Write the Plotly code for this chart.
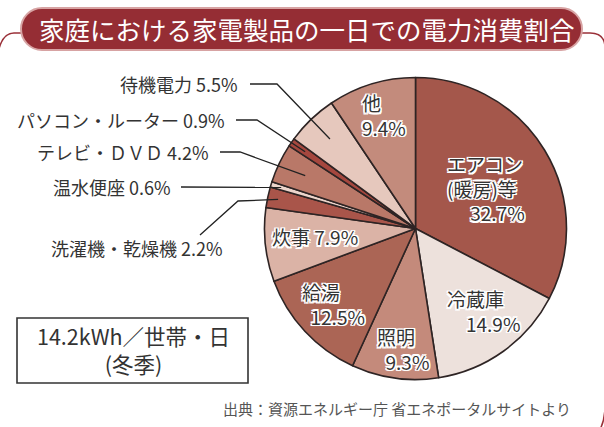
import math
import plotly.graph_objects as go

W, H = 604, 427

# ---- data ----
categories = ["エアコン（暖房）等", "冷蔵庫", "照明", "給湯", "炊事", "洗濯機・乾燥機",
              "温水便座", "テレビ・ＤＶＤ", "パソコン・ルーター", "待機電力", "他"]
values = [32.7, 14.9, 9.3, 12.5, 7.9, 2.2, 0.6, 4.2, 0.9, 5.5, 9.4]
colors = ["#a4574b", "#ede1dc", "#c48a7b", "#ab6555", "#dbb3a6", "#a9554a",
          "#ecd5cc", "#b97868", "#a5473e", "#e6c8bd", "#c38b7c"]

title_text = "家庭における家電製品の一日での電力消費割合"
total_text = ["14.2kWh／世帯・日", "(冬季)"]
source_text = "出典：資源エネルギー庁 省エネポータルサイトより"

# ---- geometry (pixels) ----
CX, CY, R = 415.5, 228.5, 151


def px(x):
    return x / W


def py(y):
    return 1 - y / H


FONT = "Noto Sans CJK JP"
DARK = "#333333"
HALO = ",".join(f"{dx}px {dy}px 0 #fff" for dx in (-1.5, 0, 1.5) for dy in (-1.5, 0, 1.5)
                if (dx, dy) != (0, 0)) + ",0 0 2px #fff"

fig = go.Figure()
fig.add_trace(go.Pie(
    labels=categories, values=values, sort=False, direction="clockwise", rotation=0,
    marker=dict(colors=colors, line=dict(color="#2e2424", width=1.6)),
    textinfo="none", hoverinfo="label+percent", showlegend=False,
    domain=dict(x=[px(CX - R), px(CX + R)], y=[py(CY + R), py(CY - R)]),
))

# cumulative mid-angles (clockwise from 12 o'clock)
tot = sum(values)
mids = []
acc = 0
for v in values:
    mids.append((acc + v / 2) / tot * 360)
    acc += v


def slice_point(i, frac):
    a = math.radians(mids[i])
    return CX + frac * R * math.sin(a), CY - frac * R * math.cos(a)


annotations = []
shapes = []


def txt(x, y, s, size, anchor="center", color=DARK, halo=False, align="center"):
    f = dict(family=FONT, size=size, color=color)
    if halo:
        f["shadow"] = HALO
    annotations.append(dict(x=px(x), y=py(y), xref="paper", yref="paper", text=s,
                            showarrow=False, xanchor=anchor, yanchor="middle", font=f,
                            align=align))


# ---- inside labels ----
IN = 19
NB = "&nbsp;"
txt(445, 188, f"エアコン<br>(暖房)等<br>　 {values[0]}%", IN, anchor="left", halo=True, align="left")
txt(445, 311, f"{categories[1]}<br>　{values[1]}%", IN, anchor="left", halo=True, align="left")
txt(375, 349, f"{categories[2]}<br>{NB*2}{values[2]}%", IN, anchor="left", halo=True, align="left")
txt(300, 304, f"{categories[3]}<br>{NB*2}{values[3]}%", IN, anchor="left", halo=True, align="left")
txt(315, 237, f"{categories[4]} {values[4]}%", IN, halo=True)
txt(360, 115, f"{categories[10]}<br>{values[10]}%", IN, anchor="left", halo=True, align="left")

# ---- outside labels with leader lines ----
OUT = 18
outer = [
    (9, 240, 84, [(250, 84), (277, 84)], 0.82),
    (8, 227, 120, [(236, 120), (257, 120)], 0.89),
    (7, 211, 152, [(220, 152), (240, 152)], 0.81),
    (6, 173, 187, [(181, 187)], 0.93),
    (5, 225, 248, [(200, 235), (238, 201)], 0.93),
]
for i, tx, ty, pts, frac in outer:
    txt(tx, ty, f"{categories[i]} {values[i]}%", OUT, anchor="right")
    ex, ey = slice_point(i, frac)
    allp = pts + [(ex, ey)]
    path = "M " + " L ".join(f"{px(x)},{py(y)}" for x, y in allp)
    shapes.append(dict(type="path", xref="paper", yref="paper", path=path,
                       line=dict(color="#222", width=1.3)))

# ---- frame and title banner ----
FR = "#9a3038"
shapes.append(dict(type="path", xref="paper", yref="paper",
                   path=f"M {px(-3)},{py(60)} Q {px(0)},{py(33)} {px(14)},{py(33)} L {px(30)},{py(33)}",
                   line=dict(color=FR, width=1.5)))
shapes.append(dict(type="path", xref="paper", yref="paper",
                   path=(f"M {px(570)},{py(33)} L {px(590)},{py(33)} Q {px(605)},{py(33)} {px(605)},{py(48)} "
                         f"L {px(605)},{py(405)} Q {px(605)},{py(424)} {px(597)},{py(434)}"),
                   line=dict(color=FR, width=1.5)))
bx0, bx1, by0, by1, rr = 21, 582, 8, 50, 21
k = 0.552 * rr
banner = (f"M {px(bx0+rr)},{py(by0)} L {px(bx1-rr)},{py(by0)} "
          f"C {px(bx1-rr+k)},{py(by0)} {px(bx1)},{py(by0+rr-k)} {px(bx1)},{py(by0+rr)} "
          f"C {px(bx1)},{py(by1-rr+k)} {px(bx1-rr+k)},{py(by1)} {px(bx1-rr)},{py(by1)} "
          f"L {px(bx0+rr)},{py(by1)} "
          f"C {px(bx0+rr-k)},{py(by1)} {px(bx0)},{py(by1-rr+k)} {px(bx0)},{py(by1-rr)} "
          f"C {px(bx0)},{py(by0+rr-k)} {px(bx0+rr-k)},{py(by0)} {px(bx0+rr)},{py(by0)} Z")
shapes.append(dict(type="path", xref="paper", yref="paper", path=banner,
                   fillcolor="#952d34", line=dict(color="#d7a3a3", width=2)))
txt(307, 29, title_text, 25.5, color="#ffffff")

# ---- total box ----
shapes.append(dict(type="rect", xref="paper", yref="paper",
                   x0=px(17), x1=px(248), y0=py(383), y1=py(318),
                   line=dict(color="#333", width=1.6), fillcolor="#ffffff"))
txt(133, 349, "<br>".join(total_text), 21.5)

# ---- source ----
txt(573, 408, source_text, 15, anchor="right", color="#555555")

fig.update_layout(width=W, height=H, margin=dict(l=0, r=0, t=0, b=0),
                  paper_bgcolor="#ffffff", plot_bgcolor="#ffffff",
                  annotations=annotations, shapes=shapes,
                  font=dict(family=FONT))
fig.write_html("out.html", config={"displayModeBar": False},
               post_script="document.body.style.margin='0';document.body.style.padding='0';")
